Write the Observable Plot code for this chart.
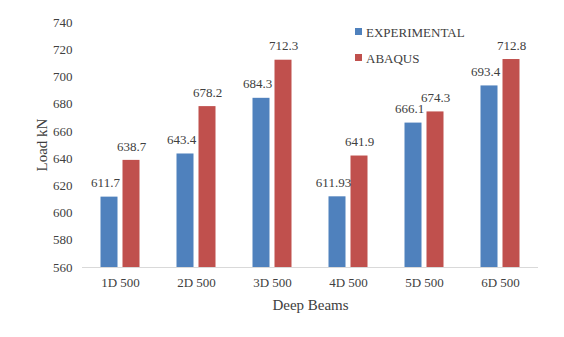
<!DOCTYPE html>
<html>
<head>
<meta charset="utf-8">
<script src="https://cdn.jsdelivr.net/npm/d3@7"></script>
<script src="https://cdn.jsdelivr.net/npm/@observablehq/plot@0.6"></script>
<style>
  html, body { margin: 0; padding: 0; background: #fff; }
  #chart svg { display: block; }
</style>
</head>
<body>
<div id="chart"></div>
<script>
const beams = ["1D 500", "2D 500", "3D 500", "4D 500", "5D 500", "6D 500"];
const experimental = [611.7, 643.4, 684.3, 611.93, 666.1, 693.4];
const abaqus = [638.7, 678.2, 712.3, 641.9, 674.3, 712.8];
const seriesNames = ["EXPERIMENTAL", "ABAQUS"];
const colors = ["#4F81BD", "#C0504D"];
const yTicks = [560, 580, 600, 620, 640, 660, 680, 700, 720, 740];

const expData = beams.map((b, i) => ({beam: b, value: experimental[i]}));
const abqData = beams.map((b, i) => ({beam: b, value: abaqus[i]}));

const font = "'Liberation Serif', 'Times New Roman', serif";
const textColor = "#404040";

const plot = Plot.plot({
  width: 564,
  height: 337,
  marginLeft: 82,
  marginRight: 26,
  marginTop: 22,
  marginBottom: 70,
  style: {fontFamily: font, fontSize: "13px", color: textColor, background: "#fff"},
  x: {domain: beams, padding: 0, label: "Deep Beams", labelAnchor: "center", labelOffset: 42, tickSize: 0, tickPadding: 10},
  y: {domain: [560, 740], ticks: yTicks, tickSize: 0, tickPadding: 10, label: "Load kN", labelAnchor: "center", labelOffset: 46, tickFormat: d => String(d)},
  marks: [
    Plot.barY(expData, {x: "beam", y1: 560, y2: "value", fill: colors[0], insetLeft: 18.5, insetRight: 40.5}),
    Plot.barY(abqData, {x: "beam", y1: 560, y2: "value", fill: colors[1], insetLeft: 40.5, insetRight: 18.5}),
    Plot.ruleY([560], {stroke: "#d9d9d9", strokeWidth: 1}),
    Plot.text(expData, {x: "beam", y: "value", text: d => String(d.value), dx: -15, dy: -14, fill: textColor, fontSize: 13}),
    Plot.text(abqData, {x: "beam", y: "value", text: d => String(d.value), dx: 11, dy: -14, fill: textColor, fontSize: 13})
  ]
});

const svg = d3.select(plot);
svg.selectAll("[aria-label='x-axis label'] text, [aria-label='y-axis label'] text").style("font-size", "15px").attr("fill", textColor);
svg.select("[aria-label='y-axis label'] text").text("Load kN");
svg.select("[aria-label='x-axis label'] text").text("Deep Beams");

// legend
const lg = svg.append("g").attr("font-family", font).attr("font-size", 13).attr("fill", textColor).attr("text-anchor", "start");
seriesNames.forEach((name, i) => {
  const y = 32 + i * 26;
  lg.append("rect").attr("x", 355).attr("y", y - 4).attr("width", 7).attr("height", 7).attr("fill", colors[i]);
  lg.append("text").attr("x", 366).attr("y", y).attr("dy", "0.35em").attr("text-anchor", "start").text(name);
});

document.getElementById("chart").appendChild(plot);
</script>
</body>
</html>
